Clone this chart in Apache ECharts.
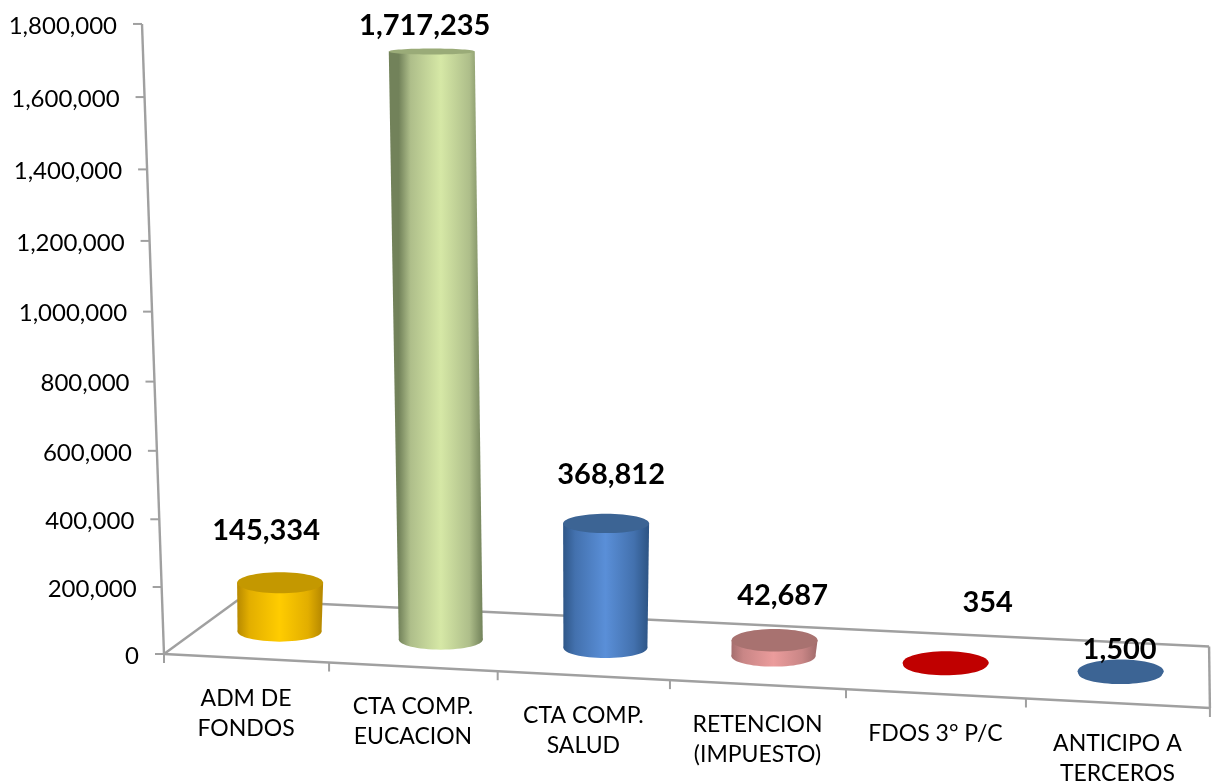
<!DOCTYPE html>
<html><head><meta charset="utf-8">
<style>html,body{margin:0;padding:0;background:#fff}#c{width:1214px;height:784px}</style>
<script src="https://cdn.jsdelivr.net/npm/echarts@6/dist/echarts.min.js"></script>
</head><body><div id="c"></div>
<script>
const categories = ['ADM DE\nFONDOS','CTA COMP.\nEUCACION','CTA COMP.\nSALUD','RETENCION\n(IMPUESTO)','FDOS 3° P/C','ANTICIPO A\nTERCEROS'];
const values = [145334,1717235,368812,42687,354,1500];
const yTicks = [0,200000,400000,600000,800000,1000000,1200000,1400000,1600000,1800000];
const yTickLabels = ['0','200,000','400,000','600,000','800,000','1,000,000','1,200,000','1,400,000','1,600,000','1,800,000'];

// styling and camera, separate from the data
const bodyColors = [['#B88A00','#E2AE00','#FFCC00'],['#72825A','#AEBE8A','#D6E8A6'],['#2F5788','#4371AE','#5A8FD8'],['#A56E6E','#C98686','#EB9C9C'],['#C00000','#C00000','#C00000'],['#3C6494','#3C6494','#3C6494']];
const topColors = ['#C49800','#9AAB78','#3C6494','#A87270','#C00000','#3C6494'];
const labelOffsets = [[-14,-52],[-7,-26],[5,-49],[8,-45],[42,-60],[-1,-21]];
const G = {left:0, top:0, width:1200, height:600};
const P = [[969.7,-28.81,92.3,164],[9.4,-631.2,-7.8,654],[-0.063,-0.048,0.077,1]];
const FONT = 'Lato, "Open Sans", sans-serif';
const AXIS = '#A0A0A0';
const TOP_SKEW = 3.5;

function project(t,h,z){
  const w = P[2][0]*t+P[2][1]*h+P[2][2]*z+P[2][3];
  return [(P[0][0]*t+P[0][1]*h+P[0][2]*z+P[0][3])/w,(P[1][0]*t+P[1][1]*h+P[1][2]*z+P[1][3])/w];
}
function flat(api,i,v){
  const p = api.coord([i,v]);
  return [(p[0]-G.left)/G.width,(G.top+G.height-p[1])/G.height];
}
function cylTop(f){
  const a = project(f[0],f[1],0.5);
  return [a[0]-TOP_SKEW*f[1],a[1]];
}
function seg(a,b,width){
  return {type:'line',shape:{x1:a[0],y1:a[1],x2:b[0],y2:b[1]},style:{stroke:AXIS,lineWidth:width||2.4}};
}
function ryAt(y){ return 3+(y-51)*0.0141; }

function renderFrame(params,api){
  const n = categories.length, c = [];
  const f0 = project(0,0,0), f1 = project(1,0,0), b0 = project(0,0,1), b1 = project(1,0,1);
  c.push(seg(f0,b0),seg(b0,b1),seg(b1,f1),seg(f0,f1));
  c.push(seg(project(0,1,0),f0));
  for(let k=0;k<=n;k++){
    const a = project(k/n,0,0);
    c.push(seg(a,[a[0],a[1]+9],2));
  }
  return {type:'group',children:c};
}
function renderYTick(params,api){
  const f = flat(api,0,api.value(1));
  const a = project(0,f[1],0);
  return {type:'group',children:[
    seg([a[0]-9,a[1]],a,2),
    {type:'text',style:{x:a[0]-25,y:a[1]+2,text:yTickLabels[params.dataIndex],fill:'#000',fontFamily:FONT,fontSize:24,align:'right',verticalAlign:'middle'}}
  ]};
}
function renderCatLabel(params,api){
  const f = flat(api,api.value(0),0);
  const a = project(f[0],0,0);
  return {type:'text',style:{x:a[0],y:a[1]+25,text:categories[params.dataIndex],fill:'#000',fontFamily:FONT,fontSize:23,lineHeight:30,align:'center',verticalAlign:'top'}};
}
function renderCylinder(params,api){
  const i = params.dataIndex;
  const f = flat(api,api.value(0),api.value(1));
  const base = project(f[0],0,0.47), top = cylTop(f);
  const rxT = 43, rxB = 42, ryT = ryAt(top[1]), ryB = ryAt(base[1])*0.9;
  const cols = bodyColors[i];
  const fill = (x0,x1)=>new echarts.graphic.LinearGradient(x0,0,x1,0,[{offset:0,color:cols[0]},{offset:.14,color:cols[1]},{offset:.5,color:cols[2]},{offset:.84,color:cols[1]},{offset:1,color:cols[0]}],true);
  return {type:'group',children:[
    {type:'ellipse',shape:{cx:base[0],cy:base[1],rx:rxB,ry:ryB},style:{fill:fill(base[0]-rxB,base[0]+rxB)}},
    {type:'polygon',shape:{points:[[top[0]-rxT,top[1]],[top[0]+rxT,top[1]],[base[0]+rxB,base[1]],[base[0]-rxB,base[1]]]},style:{fill:fill(base[0]-rxB,base[0]+rxB)}},
    {type:'ellipse',shape:{cx:top[0],cy:top[1],rx:rxT,ry:ryT},style:{fill:topColors[i]}}
  ]};
}
function renderValueLabel(params,api){
  const i = params.dataIndex;
  const f = flat(api,api.value(0),api.value(1));
  const top = cylTop(f);
  return {type:'text',style:{x:top[0]+labelOffsets[i][0],y:top[1]+labelOffsets[i][1],text:values[i].toLocaleString('en-US'),fill:'#000',fontFamily:FONT,fontWeight:'bold',fontSize:29,align:'center',verticalAlign:'middle'}};
}
const valueData = values.map((v,i)=>[i,v]);
const chart = echarts.init(document.getElementById('c'));
chart.setOption({
  animation:false,
  backgroundColor:'#fff',
  grid:Object.assign({containLabel:false},G),
  xAxis:{type:'category',data:categories,show:false},
  yAxis:{type:'value',min:0,max:1800000,interval:200000,show:false},
  series:[
    {type:'custom',name:'frame',renderItem:renderFrame,data:[[0,0]],silent:true},
    {type:'custom',name:'yTicks',renderItem:renderYTick,data:yTicks.map(v=>[0,v]),silent:true},
    {type:'custom',name:'xLabels',renderItem:renderCatLabel,data:categories.map((c,i)=>[i,0]),silent:true},
    {type:'custom',name:'cylinders',renderItem:renderCylinder,data:valueData,silent:true},
    {type:'custom',name:'values',renderItem:renderValueLabel,data:valueData,silent:true}
  ]
});
</script></body></html>
